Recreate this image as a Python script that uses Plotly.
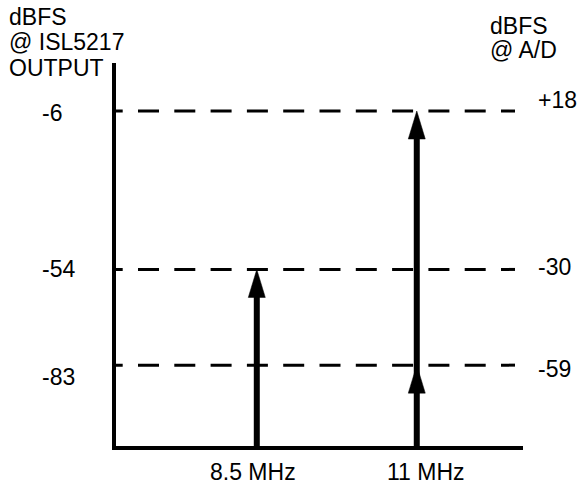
import plotly.graph_objects as go

# ---------------- data ----------------
freq_labels = ["8.5 MHz", "11 MHz"]
tone_freqs_mhz = [8.5, 11.0]
tone_levels_isl = [-54, -6]          # arrow tips, dBFS @ ISL5217 output
extra_head_freqs = [11.0]            # second arrowhead on the 11 MHz tone
extra_head_levels = [-83]
ref_levels_isl = [-6, -54, -83]      # dBFS @ ISL5217 OUTPUT (left labels)
ref_levels_ad = [18, -30, -59]       # dBFS @ A/D (right labels)
left_title = ["dBFS", "@ ISL5217", "OUTPUT"]
right_title = ["dBFS", "@ A/D"]

# ---------------- layout constants ----------------
W, H = 579, 484
ML, MR, MT, MB = 116, 56, 63, 38
plot_w = W - ML - MR
plot_h = H - MT - MB
x_range = [6.30, 12.66]
y_range = [-107.5, 8.55]
px_x = plot_w / (x_range[1] - x_range[0])
px_y = plot_h / (y_range[1] - y_range[0])

head_h = 28 / px_y
head_hw = 8.5 / px_x
dash_x0 = x_range[0] - 14.3 / px_x
dash_x1 = x_range[1] - 8 / px_x

FONT = "Liberation Sans, Arial, sans-serif"
FS = 23

fig = go.Figure()

# dashed reference levels
for lv in ref_levels_isl:
    fig.add_trace(go.Scatter(
        x=[dash_x0, dash_x1], y=[lv, lv], mode="lines",
        line=dict(color="black", width=3, dash="21px,15.3px"),
        hoverinfo="skip", showlegend=False))

def add_head(f, tip):
    fig.add_trace(go.Scatter(
        x=[f - head_hw, f, f + head_hw, f - head_hw],
        y=[tip - head_h, tip, tip - head_h, tip - head_h],
        mode="lines", fill="toself", fillcolor="black",
        line=dict(color="black", width=0.5),
        hoverinfo="skip", showlegend=False))

# tone arrows
for f, tip in zip(tone_freqs_mhz, tone_levels_isl):
    fig.add_trace(go.Scatter(
        x=[f, f], y=[y_range[0], tip - head_h / 2], mode="lines",
        line=dict(color="black", width=6),
        hoverinfo="skip", showlegend=False))
    add_head(f, tip)

for f, tip in zip(extra_head_freqs, extra_head_levels):
    add_head(f, tip)

ann = []
def py_to_paper(py):
    return (H - MB - py) / plot_h
def px_to_paper(px):
    return (px - ML) / plot_w

common = dict(showarrow=False, borderpad=0)

# left level labels
left_shift = [-1.5, 0, -12]
for lv, sh in zip(ref_levels_isl, left_shift):
    ann.append(dict(text=str(lv), xref="paper", x=px_to_paper(41), xanchor="left",
                    yref="y", y=lv, yanchor="middle", yshift=sh, **common))

# right level labels
right_shift = [11.5, 2.2, -4]
for lv_isl, lv_ad, sh in zip(ref_levels_isl, ref_levels_ad, right_shift):
    ann.append(dict(text=f"{lv_ad:+d}", xref="paper", x=px_to_paper(537), xanchor="left",
                    yref="y", y=lv_isl, yanchor="middle", yshift=sh, **common))

# titles
for txt, cy in zip(left_title, [17.5, 42, 68]):
    ann.append(dict(text=txt, xref="paper", x=px_to_paper(8), xanchor="left",
                    yref="paper", y=py_to_paper(cy), yanchor="middle", **common))
for txt, cy in zip(right_title, [25.8, 50]):
    ann.append(dict(text=txt, xref="paper", x=px_to_paper(489), xanchor="left",
                    yref="paper", y=py_to_paper(cy), yanchor="middle", **common))

# frequency labels
for f, lab, xs in zip(tone_freqs_mhz, freq_labels, [-3.4, 9.1]):
    ann.append(dict(text=lab, xref="x", x=f, xshift=xs, xanchor="center",
                    yref="paper", y=py_to_paper(471.5), yanchor="middle", **common))

fig.update_layout(
    width=W, height=H,
    margin=dict(l=ML, r=MR, t=MT, b=MB, pad=0),
    paper_bgcolor="white", plot_bgcolor="white",
    font=dict(family=FONT, size=FS, color="black"),
    annotations=ann,
    xaxis=dict(range=x_range, showline=True, linewidth=4, linecolor="black",
               showgrid=False, zeroline=False, showticklabels=False, ticks="",
               fixedrange=True),
    yaxis=dict(range=y_range, showline=True, linewidth=4, linecolor="black",
               showgrid=False, zeroline=False, showticklabels=False, ticks="",
               fixedrange=True),
)

fig.write_html(
    "out.html",
    config={"displayModeBar": False},
    post_script="document.body.style.margin='0';document.body.style.overflow='hidden';",
)
